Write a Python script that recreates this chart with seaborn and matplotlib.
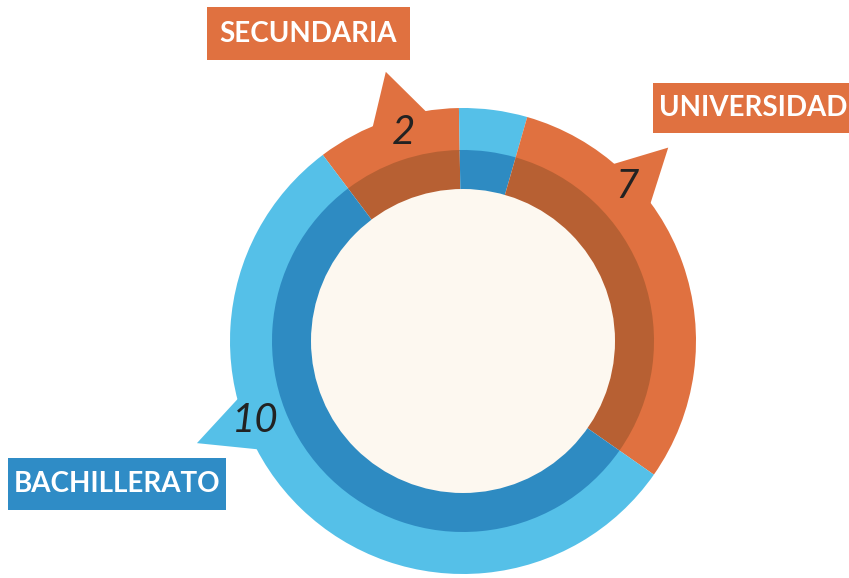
import numpy as np
import matplotlib.pyplot as plt
import matplotlib.patches as mpatches
import seaborn as sns

# Data
categories = ["SECUNDARIA", "UNIVERSIDAD", "BACHILLERATO"]
counts = [2, 7, 10]

# ring segments, clockwise from top-left
segment_category = ["SECUNDARIA", "BACHILLERATO", "UNIVERSIDAD", "BACHILLERATO"]
segment_degrees = [36, 17, 109, 198]

# colours
light = {"SECUNDARIA": "#E07140", "UNIVERSIDAD": "#E07140", "BACHILLERATO": "#55C0E8"}
dark = {"SECUNDARIA": "#B76033", "UNIVERSIDAD": "#B76033", "BACHILLERATO": "#2E8BC2"}
box_color = {"SECUNDARIA": "#E07140", "UNIVERSIDAD": "#E07140", "BACHILLERATO": "#2F8CC6"}
hole_color = "#FDF8F0"

sns.set_style("white")

W, H = 849, 578
fig = plt.figure(figsize=(W / 100, H / 100), dpi=100)
ax = fig.add_axes([0, 0, 1, 1])

cx, cy = 463, H - 341
r_out, r_mid, r_hole = 233, 191, 152
start = 90 + 37  # first segment starts 37 deg left of top

def polar(a, r):
    t = np.deg2rad(a)
    return cx + r * np.sin(t), cy + r * np.cos(t)

# callout spikes (angles clockwise from top)
spikes = {
    "SECUNDARIA": (-23.3, -16.0, -8.9),
    "UNIVERSIDAD": (40.0, 46.7, 54.0),
    "BACHILLERATO": (256.0, 249.0, 242.0),
}
tip_r = [280, 282, 285]
for cat, tr in zip(categories, tip_r):
    a1, at, a2 = spikes[cat]
    pts = [polar(a1, 230), polar(at, tr), polar(a2, 231), polar((a1 + a2) / 2, 200)]
    ax.add_patch(mpatches.Polygon(pts, closed=True, color=light[cat], lw=0, zorder=1))

ax.pie(segment_degrees, radius=r_out, center=(cx, cy), startangle=start,
       counterclock=False, colors=[light[c] for c in segment_category],
       wedgeprops=dict(width=r_out - r_mid + 1, linewidth=0, zorder=2))
ax.pie(segment_degrees, radius=r_mid, center=(cx, cy), startangle=start,
       counterclock=False, colors=[dark[c] for c in segment_category],
       wedgeprops=dict(width=r_mid - r_hole + 1, linewidth=0, zorder=3))
ax.add_patch(mpatches.Circle((cx, cy), r_hole, color=hole_color, lw=0, zorder=4))

# numbers on the spikes
num_r = [217, 226, 223]
for cat, n, nr in zip(categories, counts, num_r):
    x, y = polar(spikes[cat][1], nr)
    ax.text(x, y, str(n), ha="center", va="center", fontsize=29,
            fontstyle="italic", family="Lato", color="#222222", zorder=5)

# label boxes (x0, y0 top, x1, y1 bottom in picture pixels)
boxes = {
    "SECUNDARIA": (207, 7, 410, 60),
    "UNIVERSIDAD": (653, 83, 870, 133),
    "BACHILLERATO": (8, 458, 226, 510),
}
text_x = {"SECUNDARIA": 308, "UNIVERSIDAD": 659, "BACHILLERATO": 117}
for cat in categories:
    x0, y0, x1, y1 = boxes[cat]
    ax.add_patch(mpatches.Rectangle((x0, H - y1), x1 - x0, y1 - y0,
                                    color=box_color[cat], lw=0, zorder=5))
    ha = "left" if cat == "UNIVERSIDAD" else "center"
    ax.text(text_x[cat], H - (y0 + y1) / 2, cat, ha=ha, va="center",
            fontsize=20, fontweight="bold", family="Lato", color="white", zorder=6)

ax.set_xlim(0, W)
ax.set_ylim(0, H)
ax.set_aspect("equal")
ax.axis("off")

fig.savefig("out.png", dpi=100, facecolor="white")
